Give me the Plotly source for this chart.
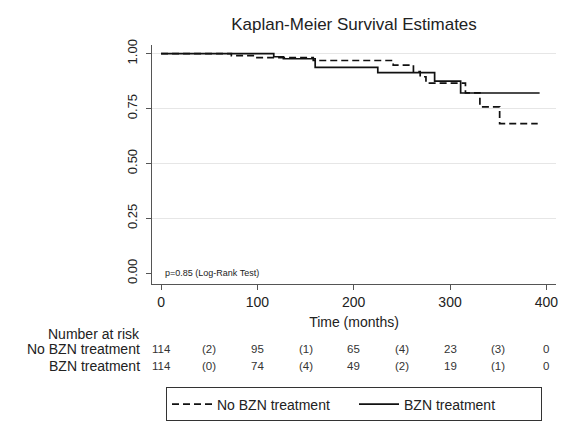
import plotly.graph_objects as go

# ---- data ----
no_bzn_t = [0, 73, 98, 158, 241, 262, 269, 275, 316, 331, 351.5, 391]
no_bzn_s = [1.0, 0.991, 0.982, 0.969, 0.948, 0.919, 0.895, 0.866, 0.822, 0.758, 0.682, 0.682]

bzn_t = [0, 117, 127, 160, 225, 284, 311, 393]
bzn_s = [1.0, 0.986, 0.977, 0.938, 0.914, 0.875, 0.821, 0.821]

risk_times = [0, 50, 100, 150, 200, 250, 300, 350, 400]
risk_no_bzn = ["114", "(2)", "95", "(1)", "65", "(4)", "23", "(3)", "0"]
risk_bzn = ["114", "(0)", "74", "(4)", "49", "(2)", "19", "(1)", "0"]

x_ticks = [0, 100, 200, 300, 400]
y_ticks = [0, 0.25, 0.5, 0.75, 1.0]
y_grid = [0.25, 0.5, 0.75, 1.0]

FONT = "Liberation Sans, Arial, sans-serif"
AX = "#555555"

fig = go.Figure()
fig.add_trace(go.Scatter(x=no_bzn_t, y=no_bzn_s, mode="lines", line_shape="hv",
                         name="No BZN treatment",
                         line=dict(color="#111111", width=1.7, dash="7px,4px")))
fig.add_trace(go.Scatter(x=bzn_t, y=bzn_s, mode="lines", line_shape="hv",
                         name="BZN treatment",
                         line=dict(color="#111111", width=1.7)))
# hidden trace to carry the gridline axis
fig.add_trace(go.Scatter(x=[None], y=[None], yaxis="y2", showlegend=False, hoverinfo="skip"))

yr = [-0.0487, 1.0396]
fig.update_layout(
    width=574, height=421,
    margin=dict(l=152, r=18, t=45, b=137, autoexpand=False),
    paper_bgcolor="white", plot_bgcolor="white",
    font=dict(family=FONT, color="#222222", size=14),
    title=dict(text="Kaplan-Meier Survival Estimates", x=0.5, xref="paper", xanchor="center",
               y=1 - 24 / 421, yref="container", yanchor="middle",
               font=dict(size=17, family=FONT, color="#222222")),
    xaxis=dict(range=[-9.4, 410], tickvals=x_ticks, showgrid=False, zeroline=False,
               showline=True, linecolor=AX, linewidth=1, ticks="outside", ticklen=5,
               tickcolor=AX, tickfont=dict(size=14),
               title=dict(text="Time (months)", standoff=8, font=dict(size=14))),
    yaxis=dict(range=yr, tickvals=y_ticks, ticktext=["0.00", "0.25", "0.50", "0.75", "1.00"],
               showgrid=False, zeroline=False, showline=True, linecolor=AX, linewidth=1,
               ticks="outside", ticklen=5, tickcolor=AX, tickangle=-90,
               tickfont=dict(size=13), ticklabelstandoff=4),
    yaxis2=dict(range=yr, overlaying="y", tickvals=y_grid, showticklabels=False,
                showgrid=True, gridcolor="#e6e6e6", gridwidth=1, zeroline=False,
                showline=False, ticks="", layer="below traces"),
    showlegend=True,
    legend=dict(orientation="h", x=0.5, xanchor="center", y=-0.433, yanchor="top",
                bordercolor="#333333", borderwidth=1, font=dict(size=14),
                entrywidth=132, itemwidth=40, bgcolor="white"),
)

# p-value annotation
fig.add_annotation(text="p=0.85 (Log-Rank Test)", xref="paper", yref="paper",
                   x=0.027, y=0.045, xanchor="left", yanchor="middle", showarrow=False,
                   font=dict(size=9, color="#222222"))

# number at risk table
fig.add_annotation(text="Number at risk", xref="paper", yref="paper", x=-0.0255, y=-0.210,
                   xanchor="right", yanchor="middle", showarrow=False, font=dict(size=14))
fig.add_annotation(text="No BZN treatment", xref="paper", yref="paper", x=-0.0255, y=-0.273,
                   xanchor="right", yanchor="middle", showarrow=False, font=dict(size=14))
fig.add_annotation(text="BZN treatment", xref="paper", yref="paper", x=-0.0255, y=-0.342,
                   xanchor="right", yanchor="middle", showarrow=False, font=dict(size=14))
for t, a, b in zip(risk_times, risk_no_bzn, risk_bzn):
    fig.add_annotation(text=a, x=t, xref="x", yref="paper", y=-0.273, showarrow=False,
                       xanchor="center", yanchor="middle", font=dict(size=11.5, color="#333333"))
    fig.add_annotation(text=b, x=t, xref="x", yref="paper", y=-0.342, showarrow=False,
                       xanchor="center", yanchor="middle", font=dict(size=11.5, color="#333333"))

fig.write_html("out.html", config={"displayModeBar": False},
               post_script="document.body.style.margin='0';document.body.style.overflow='hidden';")
